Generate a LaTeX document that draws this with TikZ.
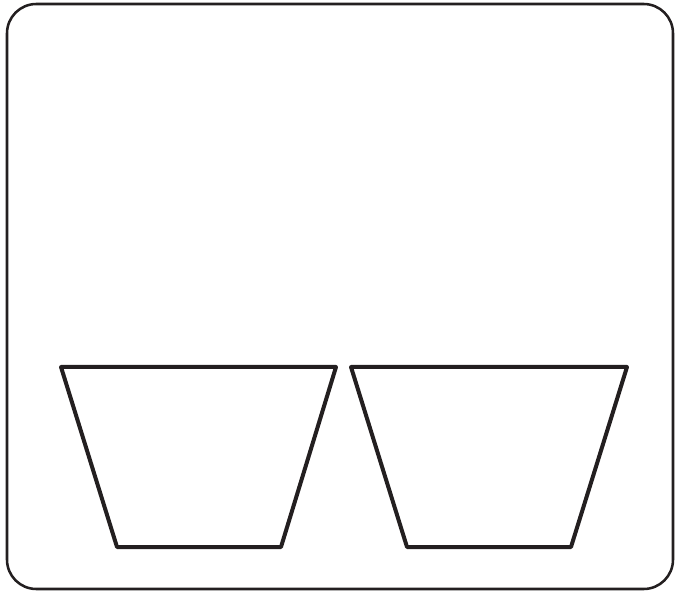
\documentclass[tikz,border=0pt]{standalone}
\usepackage{tikz}
\usetikzlibrary{positioning}
\definecolor{inkDark}{HTML}{231F20}

\begin{document}
\begin{tikzpicture}[
  x=0.75pt, y=-0.75pt,
  panel/.style={draw=inkDark, line width=1.9pt, rounded corners=22pt},
  cup/.style={draw=inkDark, line width=3pt, line join=round}
]
\useasboundingbox (0,0) rectangle (675,591);

% outer frame
\draw[panel] (7,4) rectangle (673,589);

% two trapezoids
\draw[cup] (61,367) -- (336,367) -- (281,547) -- (117,547) -- cycle;
\draw[cup] (351,367) -- (627,367) -- (571,547) -- (407,547) -- cycle;

\end{tikzpicture}
\end{document}
